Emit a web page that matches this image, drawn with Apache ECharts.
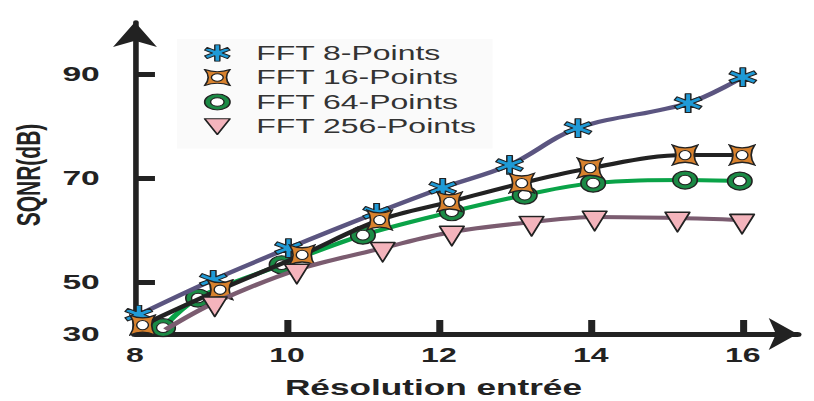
<!DOCTYPE html>
<html><head><meta charset="utf-8">
<script src="https://cdn.jsdelivr.net/npm/echarts@6/dist/echarts.min.js"></script>
<style>
html,body{margin:0;padding:0;background:#fff;overflow:hidden;width:814px;height:401px}
#c{width:509px;height:401px;transform:scaleX(1.59921);transform-origin:0 0}
</style>
</head><body><div id="c"></div>
<script>
// ---- data ----
const seriesNames = ['FFT 8-Points', 'FFT 16-Points', 'FFT 64-Points', 'FFT 256-Points'];
const fft8X = [8.05, 9.03, 10.02, 11.18, 12.05, 12.93, 13.83, 15.28, 16.0];
const fft8Y = [43.7, 50.4, 56.5, 63.3, 68.1, 72.5, 79.6, 84.4, 89.4];
const fft16X = [8.1, 9.12, 10.2, 11.22, 12.14, 13.09, 13.99, 15.24, 15.99];
const fft16Y = [41.7, 48.5, 55.2, 61.9, 65.4, 69.0, 71.9, 74.4, 74.4];
const fft64X = [8.37, 8.83, 9.93, 11.0, 12.17, 13.13, 14.03, 15.24, 15.96];
const fft64Y = [41.2, 46.9, 53.3, 59.0, 63.5, 66.7, 69.0, 69.6, 69.4];
const fft256X = [8.4, 9.05, 10.13, 11.26, 12.17, 13.22, 14.05, 15.14, 15.99];
const fft256Y = [40.8, 46.0, 52.3, 56.5, 59.6, 61.5, 62.5, 62.3, 61.9];
const yTickValues = [30, 50, 70, 90];
const xTickValues = [8, 10, 12, 14, 16];
const xName = 'Résolution entrée';
const yName = 'SQNR(dB)';

// ---- marker images ----
function svgUri(body) {
  const svg = '<svg xmlns="http://www.w3.org/2000/svg" viewBox="0 0 100 100" preserveAspectRatio="none">' + body + '</svg>';
  return 'image://data:image/svg+xml;charset=utf-8,' + encodeURIComponent(svg);
}
function starPoints() {
  const R = 47, h = 9, c = 50, pts = [];
  for (let k = 0; k < 6; k++) {
    const t = (-90 + 60 * k) * Math.PI / 180;
    const dx = Math.cos(t), dy = Math.sin(t), px = -Math.sin(t), py = Math.cos(t);
    pts.push([c + R * dx - h * px, c + R * dy - h * py]);
    pts.push([c + R * dx + h * px, c + R * dy + h * py]);
    const b = t + Math.PI / 6;
    pts.push([c + 2 * h * Math.cos(b), c + 2 * h * Math.sin(b)]);
  }
  return pts.map(p => p[0].toFixed(2) + ',' + p[1].toFixed(2)).join(' ');
}
const symStar = svgUri('<polygon points="' + starPoints() + '" fill="#1f9ad6" stroke="#222" stroke-width="5" stroke-linejoin="round"/>');
const symQuad = svgUri('<path d="M5,5 Q50,30 95,5 Q70,50 95,95 Q50,70 5,95 Q30,50 5,5 Z" fill="#d8822e" stroke="#222" stroke-width="6"/><circle cx="50" cy="50" r="21" fill="#fff" stroke="#222" stroke-width="5"/>');
const symRing = svgUri('<circle cx="50" cy="50" r="45" fill="#1b8a45" stroke="#222" stroke-width="6"/><circle cx="50" cy="50" r="24" fill="#fff" stroke="#222" stroke-width="5"/>');
const symTri = svgUri('<polygon points="5,6 95,6 50,95" fill="#f4b4bc" stroke="#222" stroke-width="7" stroke-linejoin="round"/>');

function pairs(xs, ys) { return xs.map((x, i) => [x, ys[i]]); }
const FONT = '"Liberation Sans", Arial, sans-serif';

const chart = echarts.init(document.getElementById('c'), null, { renderer: 'svg' });
chart.setOption({
  animation: false,
  backgroundColor: '#fff',
  grid: { left: 84.4, right: 10.3, top: 22, bottom: 67, outerBoundsMode: 'none' },
  legend: {
    data: seriesNames,
    orient: 'vertical', left: 110.6, top: 39,
    padding: [4, 10, 12, 6],
    itemWidth: 38.6, itemHeight: 22, itemGap: 4.5,
    backgroundColor: '#fafafa',
    lineStyle: { width: 0, opacity: 0 },
    textStyle: { fontSize: 20, color: '#333', fontFamily: FONT }
  },
  xAxis: {
    type: 'value', min: 8, max: 16.72, interval: 2,
    axisLine: { show: true, onZero: false, symbol: ['none', 'arrow'], symbolSize: [24, 18], lineStyle: { color: '#222', width: 5 } },
    axisTick: { show: true, inside: true, length: 14, lineStyle: { color: '#222', width: 4.4 }, customValues: xTickValues },
    axisLabel: { customValues: xTickValues, margin: 11, fontSize: 20, fontWeight: 'bold', color: '#222', fontFamily: FONT },
    splitLine: { show: false },
    name: xName, nameLocation: 'middle', nameGap: 42,
    nameTextStyle: { fontSize: 22, fontWeight: 'bold', color: '#222', fontFamily: FONT, padding: [0, 41, 0, 0] }
  },
  yAxis: {
    type: 'value', min: 30, max: 100,
    breaks: [{ start: 30.02, end: 40, gap: 0 }],
    breakArea: { show: false },
    axisLine: { show: true, onZero: false, symbol: ['none', 'arrow'], symbolSize: [20.6, 25], lineStyle: { color: '#222', width: 3.5 } },
    axisTick: { show: true, inside: true, length: 12.5, lineStyle: { color: '#222', width: 5 }, customValues: [50, 70, 90] },
    axisLabel: { customValues: yTickValues, margin: 22, fontSize: 21, fontWeight: 'bold', color: '#222', fontFamily: FONT },
    splitLine: { show: false },
    name: yName, nameLocation: 'middle', nameGap: 55,
    nameTextStyle: { fontSize: 21, fontWeight: 'bold', color: '#222', fontFamily: FONT, padding: [0, 0, 0, 6] }
  },
  series: [
    { name: seriesNames[0], type: 'line', smooth: 0.35, data: pairs(fft8X, fft8Y),
      symbol: symStar, symbolSize: [19, 20], lineStyle: { color: '#5b5580', width: 4 }, itemStyle: { color: '#1f9ad6' }, z: 3 },
    { name: seriesNames[1], type: 'line', smooth: 0.35, data: pairs(fft16X, fft16Y),
      symbol: symQuad, symbolSize: [17.5, 22], lineStyle: { color: '#222', width: 4 }, itemStyle: { color: '#d8822e' }, z: 4 },
    { name: seriesNames[2], type: 'line', smooth: 0.35, data: pairs(fft64X, fft64Y),
      symbol: symRing, symbolSize: [17, 20], lineStyle: { color: '#0aa348', width: 4 }, itemStyle: { color: '#1b8a45' }, z: 2 },
    { name: seriesNames[3], type: 'line', smooth: 0.35,
      data: pairs(fft256X, fft256Y).map((p, i) => i === 0 ? { value: p, symbol: 'none' } : p),
      symbol: symTri, symbolSize: [17, 22], symbolOffset: [0, 4], lineStyle: { color: '#7b5c70', width: 4 }, itemStyle: { color: '#f4b4bc' }, z: 5 }
  ]
});
</script>
</body></html>
